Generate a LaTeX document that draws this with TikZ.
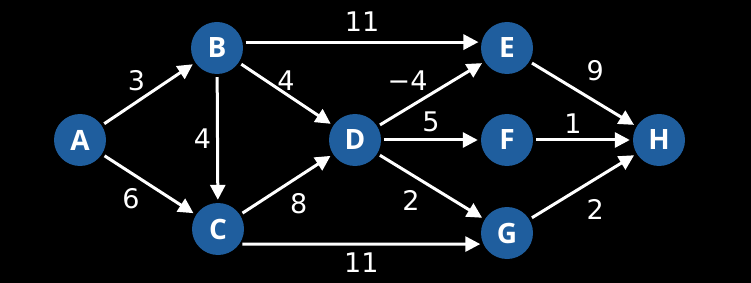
\documentclass[tikz,border=0pt]{standalone}
\usepackage{fontspec}
\setmainfont{DejaVu Sans}
\newfontfamily\letterfont{Open Sans}
\usetikzlibrary{arrows.meta}
\definecolor{vertexblue}{RGB}{31,94,158}
\tikzset{
vertex/.style={circle, fill=vertexblue, minimum size=52pt, inner sep=0pt,
  text=white, font=\letterfont\bfseries\fontsize{28}{28}\selectfont},
every edge/.style={draw=white, line width=3pt, % thick white links
  -{Triangle[length=15pt,width=15pt]}, shorten >=3pt, shorten <=3pt},
weight/.style={text=white, inner sep=2pt, font=\fontsize{27}{27}\selectfont},
}

\begin{document}
\begin{tikzpicture}[x=1pt, y=-1pt]
  \fill[black] (0,0) rectangle (751,283);

  \node[vertex] (A) at (80,140) {A};
  \node[vertex] (B) at (217,48) {B};
  \node[vertex] (C) at (218,229) {C};
  \node[vertex] (D) at (355,140) {D};
  \node[vertex] (E) at (507,48) {E};
  \node[vertex] (F) at (507,140) {F};
  \node[vertex] (G) at (507,233) {G};
  \node[vertex] (H) at (659,140) {H};

  \draw (A) edge node[weight, above left] {3} (B)
        (A) edge node[weight, below left, xshift=-6pt] {6} (C)
        (B) edge node[weight, left, xshift=-3pt] {4} (C)
        (B) edge node[weight, above] {4} (D)
        (B.13) edge node[weight, above=7pt] {11} (E.167)
        (C) edge node[weight, below right, yshift=-5pt] {8} (D)
        (C.-35) edge node[weight, below=5pt] {11} (G.-155)
        (D) edge node[weight, above left] {−4} (E)
        (D) edge node[weight, above=5pt] {5} (F)
        (D) edge node[weight, below left, xshift=-8pt] {2} (G)
        (E) edge node[weight, above right, yshift=10pt] {9} (H)
        (F) edge node[weight, above=3pt, xshift=-10pt] {1} (H)
        (G) edge node[weight, below right, yshift=-9pt] {2} (H);
\end{tikzpicture}
\end{document}
